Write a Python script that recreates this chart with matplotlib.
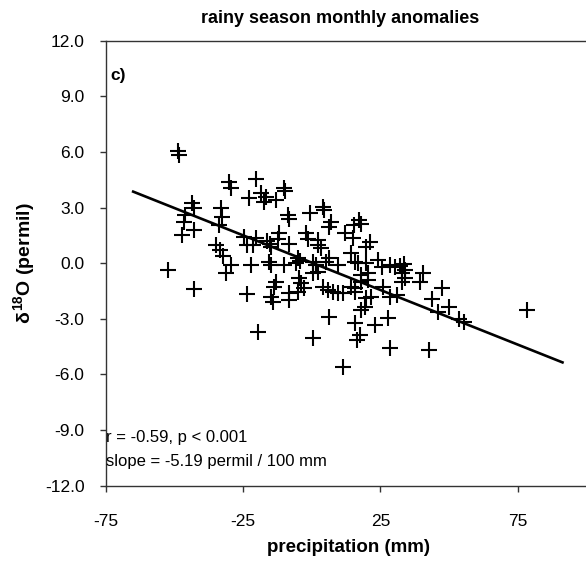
import matplotlib
matplotlib.use("Agg")
import matplotlib.pyplot as plt
import numpy as np

plt.rcParams['font.family'] = ['Liberation Sans', 'DejaVu Sans']
plt.rcParams['mathtext.fontset'] = 'custom'
plt.rcParams['mathtext.rm'] = 'Liberation Sans:bold'
plt.rcParams['mathtext.it'] = 'Liberation Sans:bold'
plt.rcParams['mathtext.bf'] = 'Liberation Sans:bold'

# precipitation anomaly (mm)
precip = [-48.6, -48.3, -30.3, -29.6, -43.6, -43.0, -46.1, -46.7, -43.0, -47.3,
          -33.2, -32.6, -24.7, -23.7, -35.1, -33.6, -32.5, -29.6, -31.4, -52.3,
          -42.8, -23.7, -22.3, -34.0, -20.4, -22.9, -18.6, -16.8, -17.4, -13.1,
          -10.1, -9.8, -8.8, -8.3, -0.6, 4.0, 4.6, 7.1, 6.4, 11.9,
          15.5, 17.3, 18.0, -2.1, -1.4, 2.2, 3.4, 2.3, -11.9, -12.4,
          -8.2, -16.4, -15.3, -14.9, -20.4, -21.6, -14.9, -15.6, -10.1, -5.0,
          -5.8, -4.3, 0.3, 1.6, 2.2, 5.2, 6.4, 9.5, 14.4, 15.6,
          16.8, 19.9, 24.2, 25.4, 28.4, 30.2, 32.0, 33.4, 33.8, 32.7,
          40.6, 39.4, 47.3, 43.7, 49.8, 45.9, 53.5, 55.3, 78.5, 27.8,
          30.9, 28.4, 26.0, 32.7, 33.9, 18.0, 20.5, 15.6, 19.9, 21.7,
          19.2, 18.0, 15.6, 22.9, 17.4, 16.6, 28.4, 42.5, -13.1, -13.7,
          -4.6, -3.9, -2.7, 0.3, 4.0, 5.8, 7.7, 9.5, 11.3, 14.4,
          15.6, -14.9, -14.3, -8.2, -8.2, -5.2, 6.4, -19.8, 0.3, 11.3,
          18.0, 20.5, 21.1, 19.9, 15.0]

# d18O anomaly (permil)
d18o = [6.05, 5.83, 4.38, 4.06, 3.23, 2.96, 2.60, 2.24, 1.79, 1.52,
        2.96, 2.51, 1.41, 0.98, 0.98, 0.71, 0.39, -0.10, -0.55, -0.37,
        -1.41, -1.64, -0.10, 2.06, 4.54, 3.50, 3.77, 3.59, 3.32, 3.41,
        4.04, 3.89, 2.60, 2.41, 2.73, 3.03, 2.87, 2.24, 1.97, 1.65,
        2.06, 2.33, 2.11, 1.61, 1.30, 1.25, 0.80, 0.98, 1.61, 1.30,
        1.03, 1.20, 1.03, 0.87, 1.34, 0.98, -0.10, 0.08, -0.10, 0.26,
        -0.01, 0.12, 0.08, -0.10, -0.46, 0.08, 0.26, -0.10, 0.53, 0.08,
        -0.01, -0.01, 0.17, -0.19, -0.10, -0.19, -0.15, -0.04, -0.37, -0.53,
        -0.55, -1.00, -1.34, -1.93, -2.35, -2.63, -3.01, -3.16, -2.53, -2.97,
        -1.72, -1.81, -1.27, -1.00, -0.82, -1.00, -0.91, -1.35, -1.89, -1.81,
        -2.35, -2.53, -3.24, -3.33, -3.87, -4.14, -4.59, -4.68, -1.00, -1.27,
        -0.82, -1.09, -1.35, -0.55, -1.27, -1.45, -1.54, -1.62, -1.62, -1.27,
        -1.54, -1.81, -2.08, -1.62, -1.99, -1.54, -2.89, -3.70, -4.05, -5.58,
        -0.64, -0.55, 1.16, 0.89, 1.34]

# regression line end points
line_x = [-65.1, 91.3]
line_y = [3.86, -5.35]

xticks = [-75, -25, 25, 75]
yticks = [-12, -9, -6, -3, 0, 3, 6, 9, 12]

fig = plt.figure(figsize=(5.86, 5.67), dpi=100)
ax = fig.add_axes([106/586, 1 - 485.7/567, 1 - 106/586 + 0.01, (485.7 - 40.7)/567])

ax.plot(line_x, line_y, color='black', lw=1.9, zorder=2)
ax.plot(precip, d18o, linestyle='none', marker='+', markersize=11,
        markeredgewidth=1.5, color='black', zorder=3)

ax.set_xlim(-75, 102)
ax.set_ylim(-12, 12)
ax.set_xticks(xticks)
ax.set_xticklabels([str(v) for v in xticks])
ax.set_yticks(yticks)
ax.set_yticklabels(['%.1f' % v for v in yticks])

for s in ['left', 'bottom', 'top']:
    ax.spines[s].set_color('#333333')
    ax.spines[s].set_linewidth(1.0)
ax.spines['right'].set_visible(False)
ax.tick_params(axis='both', direction='out', length=4.5, width=1.0,
               color='#333333', labelsize=12.5)
ax.tick_params(axis='y', pad=11)
ax.tick_params(axis='x', pad=16)

ax.set_xlabel('precipitation (mm)', fontsize=13.5, fontweight='bold', labelpad=7)
ax.set_ylabel(r'$\delta^{18}$O (permil)', fontsize=14, fontweight='bold', labelpad=6)
ax.set_title('rainy season monthly anomalies', fontsize=13, fontweight='bold', pad=13,
             x=(340 - 106) / (586 - 106 + 5.86))

ax.text(0.01, 0.922, 'c)', transform=ax.transAxes, fontsize=12.5, fontweight='bold',
        va='center', ha='left')
ax.text(0.0, 0.109, 'r = -0.59, p < 0.001', transform=ax.transAxes, fontsize=12,
        va='center', ha='left')
ax.text(0.0, 0.055, 'slope = -5.19 permil / 100 mm', transform=ax.transAxes, fontsize=12,
        va='center', ha='left')

fig.savefig('out.png', dpi=100)
